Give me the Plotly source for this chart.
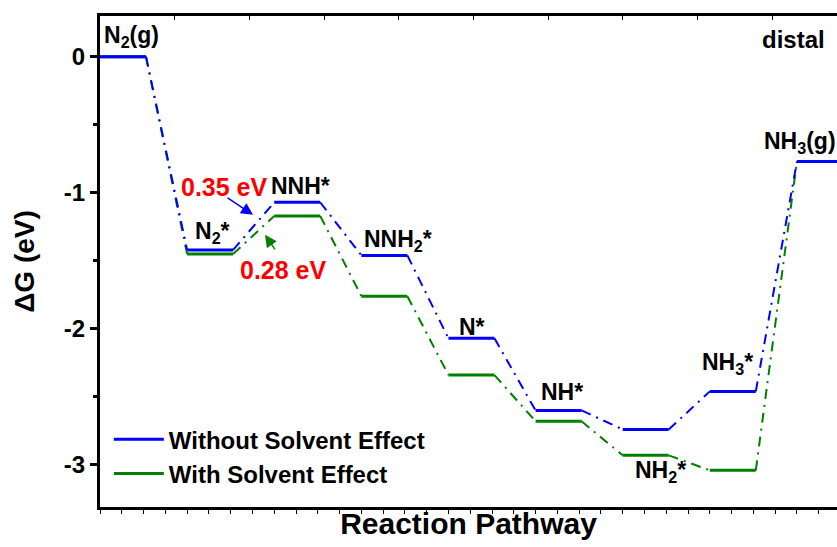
import plotly.graph_objects as go

# ---- data ----
steps = ["N<sub>2</sub>(g)", "N<sub>2</sub>*", "NNH*", "NNH<sub>2</sub>*", "N*",
         "NH*", "NH<sub>2</sub>*", "NH<sub>3</sub>*", "NH<sub>3</sub>(g)"]
without_solvent = [0.0, -1.42, -1.07, -1.46, -2.07, -2.60, -2.74, -2.46, -0.77]
with_solvent = [0.0, -1.45, -1.17, -1.76, -2.34, -2.68, -2.93, -3.04, -0.77]
barrier_labels = ["0.35 eV", "0.28 eV"]
series_names = ["Without Solvent Effect", "With Solvent Effect"]
y_tickvals = [0, -1, -2, -3]
y_ticktext = ["0", "-1", "-2", "-3"]

# ---- style / positions ----
LW = 0.528          # level width (x units)
XMAX = 8.46
FONT = "Arial, Liberation Sans, sans-serif"
BLUE = "#0000FF"
GREEN = "#007F00"
DASH = "10px,6px,2px,6px"


def level_xy(vals):
    xs, ys = [], []
    for i, v in enumerate(vals):
        xs += [i, i + LW, None]
        ys += [v, v, None]
    return xs, ys


def conn_xy(vals):
    xs, ys = [], []
    for i in range(len(vals) - 1):
        xs += [i + LW, i + 1, None]
        ys += [vals[i], vals[i + 1], None]
    return xs, ys


fig = go.Figure()
for vals, name, color, rank in [(with_solvent, series_names[1], GREEN, 2),
                                (without_solvent, series_names[0], BLUE, 1)]:
    cx, cy = conn_xy(vals)
    fig.add_trace(go.Scatter(x=cx, y=cy, mode="lines", showlegend=False,
                             line=dict(color=color, width=2, dash=DASH),
                             hoverinfo="skip"))
    lx, ly = level_xy(vals)
    fig.add_trace(go.Scatter(x=lx, y=ly, mode="lines", name=name,
                             legendrank=rank, legendgroup=name,
                             line=dict(color=color, width=3)))

# invisible trace for top axis
fig.add_trace(go.Scatter(x=[0], y=[0], xaxis="x2", mode="markers",
                         marker=dict(opacity=0), showlegend=False,
                         hoverinfo="skip"))

# step labels (x, y centers in data coords)
label_pos = [(0.36, 0.147), (1.29, -1.294), (2.30, -0.949), (3.42, -1.353),
             (4.27, -1.985), (5.30, -2.463), (6.43, -3.05), (7.20, -2.257),
             (8.04, -0.632)]
for text, (x, y) in zip(steps, label_pos):
    fig.add_annotation(x=x, y=y, text=text, showarrow=False,
                       xanchor="center", yanchor="middle",
                       font=dict(family=FONT, size=23, color="black",
                                 weight="bold"))

fig.add_annotation(x=7.96, y=0.125, text="distal", showarrow=False,
                   font=dict(family=FONT, size=24, color="black",
                             weight="bold"))

# barrier labels
fig.add_annotation(x=1.424, y=-0.956, text=barrier_labels[0], showarrow=False,
                   font=dict(family=FONT, size=25, color="#FF0000",
                             weight="bold"))
fig.add_annotation(x=2.11, y=-1.566, text=barrier_labels[1], showarrow=False,
                   font=dict(family=FONT, size=25, color="#FF0000",
                             weight="bold"))
# arrows
fig.add_annotation(x=1.757, y=-1.162, ax=-27, ay=-18, text="", showarrow=True,
                   arrowhead=2, arrowsize=1.6, arrowwidth=1.5, arrowcolor=BLUE)
fig.add_annotation(x=1.894, y=-1.309, ax=11, ay=16, text="", showarrow=True,
                   arrowhead=2, arrowsize=1.6, arrowwidth=1.5, arrowcolor=GREEN)

fig.update_layout(
    width=837, height=547,
    margin=dict(l=100, r=0, t=16, b=40, autoexpand=False),
    paper_bgcolor="white", plot_bgcolor="white",
    font=dict(family=FONT, size=23, color="black", weight="bold"),
    showlegend=True,
    legend=dict(x=0.012, y=0.183, xanchor="left", yanchor="top",
                bgcolor="rgba(0,0,0,0)", tracegroupgap=0,
                font=dict(family=FONT, size=24, color="black", weight="bold"),
                itemwidth=50),
    xaxis=dict(range=[0, XMAX], showgrid=False, zeroline=False,
               automargin=False,
               showline=True, linecolor="black", linewidth=3, mirror=True,
               ticks="outside", tick0=0, dtick=0.25, ticklen=4, tickwidth=1,
               tickcolor="black", showticklabels=False,
               title=dict(text="Reaction Pathway", standoff=0,
                          font=dict(family=FONT, size=30, weight="bold"))),
    xaxis2=dict(range=[0, XMAX], overlaying="x", side="top", showgrid=False,
                automargin=False,
                zeroline=False, showline=False, ticks="inside", tick0=0,
                dtick=6 / 7, ticklen=4, tickwidth=1, tickcolor="black",
                showticklabels=False),
    yaxis=dict(range=[-3.31, 0.30], showgrid=False, zeroline=False,
               automargin=False,
               showline=True, linecolor="black", linewidth=3,
               ticks="outside", tickvals=y_tickvals, ticktext=y_ticktext,
               ticklen=7, tickwidth=2.5, tickcolor="black",
               tickfont=dict(family=FONT, size=24, weight="bold"),
               minor=dict(dtick=0.5, ticks="outside", ticklen=4, tickwidth=2.5,
                          tickcolor="black"),
               title=dict(text="ΔG (eV)", standoff=22,
                          font=dict(family=FONT, size=28, weight="bold"))),
)

fig.write_html("out.html", config={"displayModeBar": False},
               post_script="document.body.style.margin='0';")
